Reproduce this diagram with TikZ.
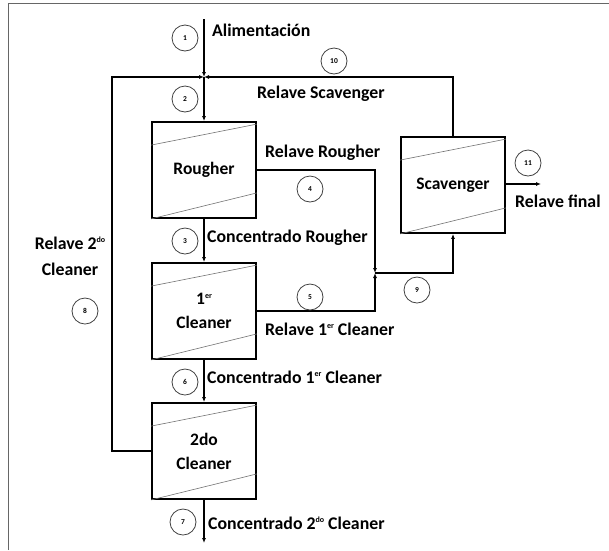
\documentclass[tikz,border=0pt]{standalone}
\usepackage{fontspec}
\setmainfont{Carlito}
\usetikzlibrary{arrows.meta,calc}
\newcommand{\supx}[1]{\raisebox{6.5pt}{\fontsize{8}{8}\selectfont #1}}
\begin{document}
\begin{tikzpicture}[x=1pt,y=1pt,
  unit/.style={draw, line width=1.8pt, minimum width=104pt, minimum height=96pt, inner sep=0pt, align=center, font=\fontsize{17.5}{24}\selectfont\bfseries},
  flow/.style={line width=1.3pt},
  tip/.style={-{Latex[length=5pt,width=4pt]}},
  num/.style={circle, draw=black!75, line width=0.8pt, minimum size=26pt, inner sep=0pt, font=\fontsize{7.5}{8}\selectfont\bfseries},
  lbl/.style={anchor=west, inner sep=0pt, font=\fontsize{17.8}{20}\selectfont\bfseries},
  diag/.style={draw=black!55, line width=0.6pt}
]
\useasboundingbox (0,0) rectangle (609,-550);
\draw[black!60, line width=1pt] (8,-550) -- (8,-3) -- (609,-3);

% units
\node[unit] (rou) at (204,-170) {Rougher};
\node[unit] (cl1) at (204,-311) {1\supx{er}\\Cleaner};
\node[unit] (cl2) at (204,-451) {2do\\Cleaner};
\node[unit] (sca) at (453,-185) {Scavenger};

\foreach \u in {rou,cl1,cl2,sca}{
  \draw[diag] ($(\u.north west)+(0,-24)$) -- ($(\u.north east)+(0,-3)$);
  \draw[diag] (\u.south west) -- ($(\u.south east)+(0,26)$);
}

% junctions and free ends
\coordinate (feed) at (rou.north |- 0,-19);
\coordinate (J1) at (rou.north |- 0,-77);
\coordinate (J2) at (375,-273);
\coordinate (out) at (541,-184);
\coordinate (prod) at (cl2.south |- 0,-543);

% connectors
\draw[flow,tip] (feed) -- (J1);
\draw[flow,tip] (J1) -- (rou.north);
\draw[flow,tip] (cl2.west) -- (112,-451) -- (112,-77) -- (J1);
\draw[flow,tip] (sca.north) -- (sca.north |- J1) -- (J1);
\draw[flow,tip] (rou.east) -- (rou.east -| J2) -- (J2);
\draw[flow,tip] (cl1.east) -- (cl1.east -| J2) -- (J2);
\draw[flow,tip] (J2) -- (J2 -| sca.south) -- (sca.south);
\draw[flow,tip] (sca.east |- out) -- (out);
\draw[flow,tip] (rou.south) -- (cl1.north);
\draw[flow,tip] (cl1.south) -- (cl2.north);
\draw[flow,tip] (cl2.south) -- (prod);

% labels
\node[lbl] (tA) at (212,-30) {Alimentación};
\node[lbl] (tB) at (257,-94) {Relave Scavenger};
\node[lbl] (tC) at (265,-153) {Relave Rougher};
\node[lbl] (tD) at (207,-238) {Concentrado Rougher};
\node[lbl] (tE) at (265,-329) {Relave 1\supx{er} Cleaner};
\node[lbl] (tF) at (207,-377) {Concentrado 1\supx{er} Cleaner};
\node[lbl] (tG) at (208,-523) {Concentrado 2\supx{do} Cleaner};
\node[lbl] (tH) at (515,-201) {Relave final};
\node[align=center, inner sep=0pt, font=\fontsize{17.8}{26}\selectfont\bfseries] (tI) at (70,-256) {Relave 2\supx{do}\\Cleaner};

% numbers
\node[num] (n1) at (185,-38) {1};
\node[num] (n2) at (185,-99) {2};
\node[num] (n3) at (185,-241) {3};
\node[num] (n4) at (310,-189) {4};
\node[num] (n5) at (310,-297) {5};
\node[num] (n6) at (185,-382) {6};
\node[num] (n7) at (183,-522) {7};
\node[num] (n8) at (85,-311) {8};
\node[num] (n9) at (417,-290) {9};
\node[num] (n10) at (334,-61) {10};
\node[num] (n11) at (528,-163) {11};
\end{tikzpicture}
\end{document}
